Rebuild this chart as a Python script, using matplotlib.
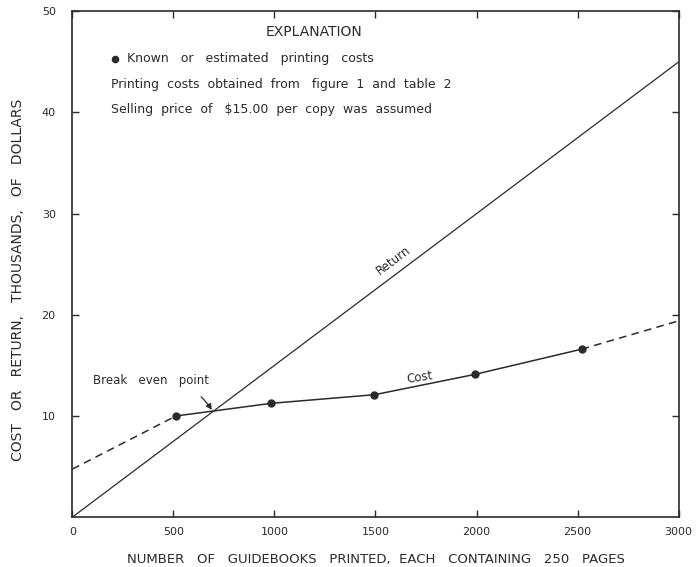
import matplotlib.pyplot as plt

# data
copies = [0, 3000]
returns = [0, 45]
cost_x = [513, 985, 1495, 1990, 2520]
cost_y = [10.0, 11.25, 12.1, 14.1, 16.6]
cost_low_x = [0, 513]
cost_low_y = [4.75, 10.0]
cost_high_x = [2520, 3000]
cost_high_y = [16.6, 19.4]
xticks = [0, 500, 1000, 1500, 2000, 2500, 3000]
yticks = [10, 20, 30, 40, 50]

ink = '#2b2b2b'
plt.rcParams['font.family'] = ['DejaVu Sans']

fig = plt.figure(figsize=(6.96, 5.67), dpi=100)
ax = fig.add_axes([0.104, 0.088, 0.871, 0.892])

ax.plot(copies, returns, color=ink, lw=0.9)
ax.plot(cost_x, cost_y, color=ink, lw=1.1, marker='o', ms=5)
ax.plot(cost_low_x, cost_low_y, color=ink, lw=1.1, ls=(0, (5, 3.5)))
ax.plot(cost_high_x, cost_high_y, color=ink, lw=1.1, ls=(0, (5, 3.5)))

ax.set_xlim(0, 3000)
ax.set_ylim(0, 50)
ax.set_xticks(xticks)
ax.set_yticks(yticks)
ax.tick_params(direction='in', length=5, width=1, colors=ink,
               top=True, right=True, labelsize=8, pad=7)
ax.tick_params(axis='y', pad=12)
for s in ax.spines.values():
    s.set_color(ink)
    s.set_linewidth(1.2)

ax.set_xlabel('NUMBER   OF   GUIDEBOOKS   PRINTED,  EACH   CONTAINING   250   PAGES',
              fontsize=9.5, color=ink, labelpad=12)
ax.set_ylabel('COST   OR   RETURN,   THOUSANDS,   OF   DOLLARS',
              fontsize=10, color=ink, labelpad=14)
ax.yaxis.set_label_coords(-0.078, 0.47)

# explanation block
ax.text(0.398, 0.96, 'EXPLANATION', transform=ax.transAxes, fontsize=10,
        color=ink, ha='center', va='center')
ax.plot([0.071], [0.906], 'o', color=ink, ms=4.5, transform=ax.transAxes)
ax.text(0.090, 0.906, 'Known   or   estimated   printing   costs', transform=ax.transAxes,
        fontsize=9, color=ink, va='center')
ax.text(0.063, 0.856, 'Printing  costs  obtained  from   figure  1  and  table  2',
        transform=ax.transAxes, fontsize=9, color=ink, va='center')
ax.text(0.063, 0.806, 'Selling  price  of   $15.00  per  copy  was  assumed',
        transform=ax.transAxes, fontsize=9, color=ink, va='center')

ax.text(1590, 25.4, 'Return', rotation=37, fontsize=8.5, color=ink,
        ha='center', va='center')
ax.text(1720, 13.8, 'Cost', rotation=9, fontsize=8.5, color=ink,
        ha='center', va='center')
ax.annotate('Break   even   point', xy=(690, 10.6), xytext=(390, 13.5),
            fontsize=8.5, color=ink, ha='center', va='center',
            arrowprops=dict(arrowstyle='-|>', color=ink, lw=0.9,
                            shrinkA=8, shrinkB=0, connectionstyle='arc3,rad=-0.3'))

fig.savefig('out.png', dpi=100)
